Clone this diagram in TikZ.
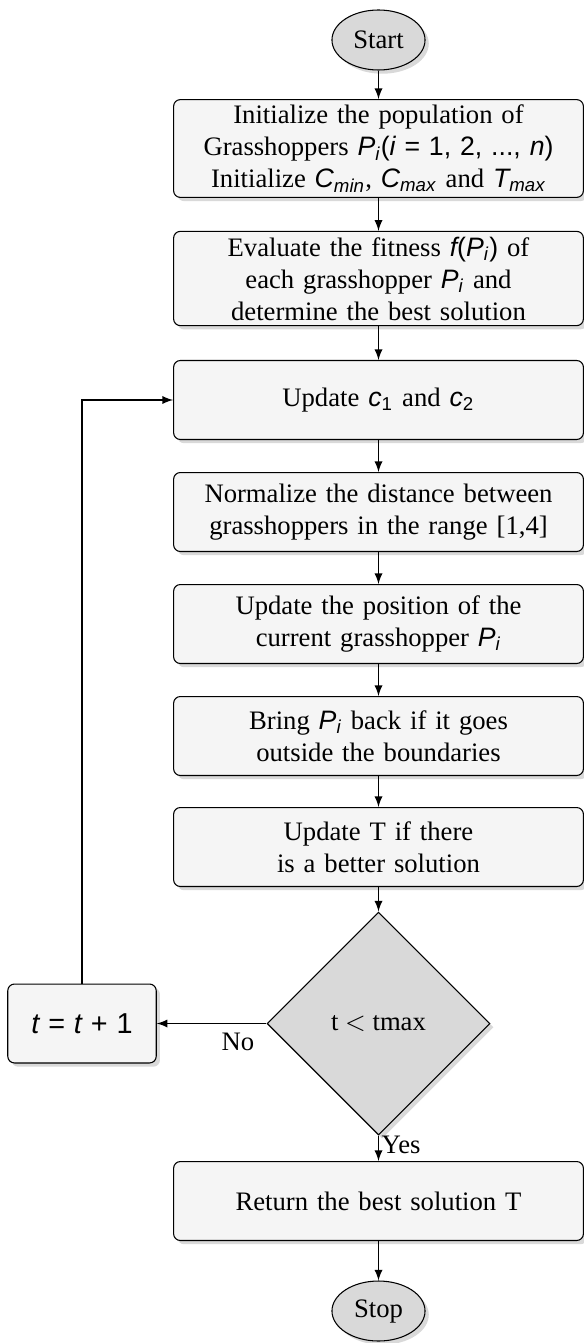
\documentclass[tikz,border=0pt]{standalone}
\usepackage{fontspec}
\setmainfont{Liberation Serif}
\newfontfamily\helv{Liberation Sans}
\newcommand{\mi}[1]{{\helv\itshape #1}}
\newcommand{\mr}[1]{{\helv #1}}
\usetikzlibrary{shapes,shapes.geometric,shadows}

\begin{document}
\begin{tikzpicture}[x=0.375pt, y=-0.375pt, ->, >=latex,
      every node/.append style={align=center},
      shade/.style={drop shadow={shadow xshift=1.4pt,shadow yshift=-1.4pt,opacity=.3}},
      box/.style={draw,shade,rounded corners=2.5pt,fill=black!4,text width=147pt,
        inner ysep=2pt,minimum height=29.6pt},
      term/.style={draw,shade,ellipse,fill=black!15,inner sep=0pt,
        minimum width=34.9pt,minimum height=22.5pt},
      test/.style={draw,shade,diamond,fill=black!15,inner sep=0pt,
        minimum width=83.6pt,minimum height=83.6pt}]
    \useasboundingbox (0,0) rectangle (584,1343);
    \node (start) [term] at (378.5,40) {Start};
    \node (init) [box] at (378.5,148.5) {Initialize the population of\\
      Grasshoppers \mi{P}\textsubscript{\mi{i}}\mr{(}\mi{i} \mr{= 1, 2, ..., }\mi{n}\mr{)}\\
      Initialize \mi{C}\textsubscript{\mi{min}}, \mi{C}\textsubscript{\mi{max}} and \mi{T}\textsubscript{\mi{max}}};
    \node (eval) [box] at (378.5,278.5) {Evaluate the fitness \mi{f}\mr{(}\mi{P}\textsubscript{\mi{i}}\mr{)} of\\
      each grasshopper \mi{P}\textsubscript{\mi{i}} and\\ determine the best solution};
    \node (upd) [box] at (378.5,400) {Update \mi{c}\textsubscript{\mr{1}} and \mi{c}\textsubscript{\mr{2}}};
    \node (norm) [box] at (378.5,512) {Normalize the distance between\\ grasshoppers in the range [1,4]};
    \node (pos) [box] at (378.5,624) {Update the position of the\\ current grasshopper \mi{P}\textsubscript{\mi{i}}};
    \node (back) [box] at (378.5,736) {Bring \mi{P}\textsubscript{\mi{i}} back if it goes\\ outside the boundaries};
    \node (best) [box] at (378.5,847) {Update T if there\\ is a better solution};
    \node (cond) [test] at (378.5,1023.5) {t $<$ tmax};
    \node (inc) [box,text width=49pt] at (82,1023.5) {\fontsize{10.8}{13}\selectfont\mi{t} \mr{=} \mi{t} \mr{+ 1}};
    \node (ret) [box] at (378.5,1201) {Return the best solution T};
    \node (stop) [term] at (378.5,1311) {Stop};
    \coordinate (loop) at (inc.north |- upd.west);
    \foreach \a/\b in {start/init,init/eval,eval/upd,upd/norm,norm/pos,pos/back,back/best,best/cond,ret/stop}
      \draw (\a) -- (\b);
    \draw (cond) -- node [anchor=west,pos=.35,inner sep=1pt] {Yes} (ret);
    \draw (cond) -- node [below,pos=.26] {No} (inc);
    \draw (inc) -- (loop) -- (upd);
\end{tikzpicture}
\end{document}
